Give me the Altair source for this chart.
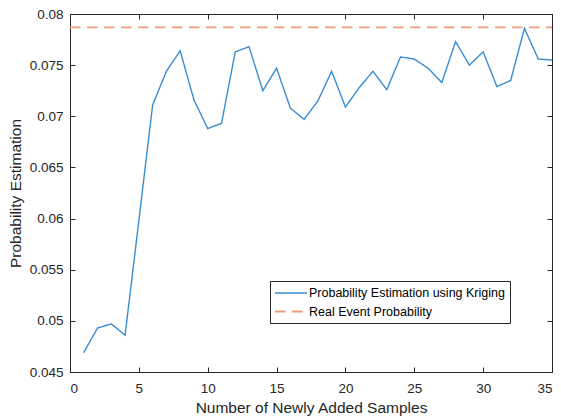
import altair as alt
import pandas as pd

# ---- data ----
samples = list(range(1, 36))
estimate = [0.0469, 0.0493, 0.0497, 0.0486, 0.0598, 0.0711, 0.0744, 0.0764, 0.0716, 0.0688,
            0.0693, 0.0763, 0.0768, 0.0725, 0.0747, 0.0708, 0.0697, 0.0715, 0.0744, 0.0709,
            0.0728, 0.0744, 0.0726, 0.0758, 0.0756, 0.0747, 0.0733, 0.0773, 0.0750, 0.0763,
            0.0729, 0.0735, 0.0786, 0.0756, 0.0755]
real_x = [0, 35]
real_value = [0.0787, 0.0787]
series_names = ["Probability Estimation using Kriging", "Real Event Probability"]
x_ticks = [0, 5, 10, 15, 20, 25, 30, 35]
y_ticks = [0.045, 0.05, 0.055, 0.06, 0.065, 0.07, 0.075, 0.08]

rows = [{"x": a, "y": b, "series": series_names[0]} for a, b in zip(samples, estimate)]
rows += [{"x": a, "y": b, "series": series_names[1]} for a, b in zip(real_x, real_value)]
df = pd.DataFrame(rows)

W, H = 482, 358
FONT = "Liberation Sans"
AX = "#262626"

xs = alt.Scale(domain=[0, 35], nice=False, zero=False)
ys = alt.Scale(domain=[0.045, 0.08], nice=False, zero=False)

legend = alt.Legend(
    title=None, orient="none", legendX=200, legendY=267,
    fillColor="white", strokeColor=AX, padding=5, rowPadding=4.5,
    labelFont=FONT, labelFontSize=12.5, labelColor="black", labelLimit=400,
    symbolType="M-2.667,0H2.667", symbolSize=144, symbolOffset=9, labelOffset=11,
    symbolFillColor="transparent",
)

base = alt.Chart(df)

lines = base.mark_line().encode(
    x=alt.X("x:Q", scale=xs, axis=alt.Axis(
        orient="bottom", values=x_ticks, ticks=False, tickSize=0, domain=False, grid=False,
        labelPadding=9, title="Number of Newly Added Samples", titlePadding=6)),
    y=alt.Y("y:Q", scale=ys, axis=alt.Axis(
        orient="left", values=y_ticks, format=".3~f", ticks=False, tickSize=0, domain=False,
        grid=False, labelPadding=7, title="Probability Estimation", titlePadding=6)),
    color=alt.Color("series:N", scale=alt.Scale(domain=series_names, range=["#3A8DD3", "#EC9C7A"]),
                    legend=legend),
    strokeDash=alt.StrokeDash("series:N", scale=alt.Scale(domain=series_names, range=[[1, 0], [10.5, 6.5]]),
                              legend=legend),
    strokeWidth=alt.StrokeWidth("series:N", scale=alt.Scale(domain=series_names, range=[1.4, 1.8]),
                                legend=legend),
)

# inward ticks on bottom & left edges
ticks_a = base.mark_point(opacity=0).encode(
    x=alt.X("x:Q", scale=xs, axis=alt.Axis(
        orient="top", offset=-H, values=x_ticks, labels=False, domain=False, grid=False,
        ticks=True, tickSize=5, tickColor=AX, title=None)),
    y=alt.Y("y:Q", scale=ys, axis=alt.Axis(
        orient="right", offset=-W, values=y_ticks, labels=False, domain=False, grid=False,
        ticks=True, tickSize=5, tickColor=AX, title=None)),
)

# inward ticks on top & right edges
ticks_b = base.mark_point(opacity=0).encode(
    x=alt.X("x:Q", scale=xs, axis=alt.Axis(
        orient="bottom", offset=-H, values=x_ticks, labels=False, domain=False, grid=False,
        ticks=True, tickSize=5, tickColor=AX, title=None)),
    y=alt.Y("y:Q", scale=ys, axis=alt.Axis(
        orient="left", offset=-W, values=y_ticks, labels=False, domain=False, grid=False,
        ticks=True, tickSize=5, tickColor=AX, title=None)),
)

chart = alt.layer(lines, ticks_a, ticks_b).resolve_axis(
    x="independent", y="independent"
).properties(
    width=W, height=H,
    autosize=alt.AutoSizeParams(type="none"),
    padding={"left": 70, "top": 14, "right": 9, "bottom": 47},
    background="white",
).configure_view(
    stroke=AX, strokeWidth=1
).configure_axis(
    labelFont=FONT, labelFontSize=13.5, labelColor=AX,
    titleFont=FONT, titleFontSize=15.5, titleColor=AX, titleFontWeight="normal",
)

chart.save("out.html", embed_options={"renderer": "svg", "actions": False})
